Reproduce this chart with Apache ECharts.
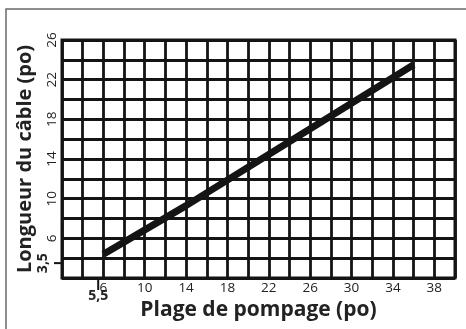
<!DOCTYPE html>
<html>
<head>
<meta charset="utf-8">
<script src="https://cdn.jsdelivr.net/npm/echarts@6/dist/echarts.min.js"></script>
<style>
  html, body { margin: 0; padding: 0; background: #fff; }
  #chart { width: 466px; height: 329px; }
</style>
</head>
<body>
<div id="chart"></div>
<script>
// Cable length versus pumping stroke
const strokeRange = [6, 14, 23, 36];          // Plage de pompage (po)
const cableLength = [4.4, 9.3, 15.1, 23.5];   // Longueur du câble (po)
const xTickLabels = [6, 10, 14, 18, 22, 26, 30, 34, 38];
const yTickLabels = [6, 10, 14, 18, 22, 26];
const minStroke = 5.5;   // marked on the x axis
const minCable = 3.5;    // marked on the y axis

const ink = '#141414';
const font = '"Open Sans", "Noto Sans", sans-serif';

const chart = echarts.init(document.getElementById('chart'), null, { renderer: 'canvas' });

const option = {
  backgroundColor: '#fff',
  animation: false,
  grid: {
    left: 62, right: 11, top: 40, bottom: 51,
    show: true, borderColor: ink, borderWidth: 3, backgroundColor: 'transparent'
  },
  xAxis: {
    type: 'value', min: 2, max: 40, interval: 2,
    axisLine: { show: false },
    axisTick: { show: false },
    splitLine: { show: true, lineStyle: { color: ink, width: 2.8 } },
    axisLabel: {
      margin: 3, color: '#222', fontFamily: font, fontSize: 13.5,
      formatter: v => xTickLabels.includes(v) ? String(v) : ''
    },
    name: 'Plage de pompage (po)',
    nameLocation: 'middle', nameGap: 17,
    nameTextStyle: { fontFamily: font, fontWeight: 'bold', fontSize: 21, color: '#222' }
  },
  yAxis: {
    type: 'value', min: 2, max: 26, interval: 2,
    axisLine: { show: false },
    axisTick: { show: false },
    splitLine: { show: true, lineStyle: { color: ink, width: 2.8 } },
    axisLabel: {
      margin: 3, rotate: 90, color: '#222', fontFamily: font, fontSize: 13.5,
      formatter: v => yTickLabels.includes(v) ? String(v) : ''
    },
    name: 'Longueur du câble (po)',
    nameLocation: 'middle', nameGap: 27,
    nameTextStyle: { fontFamily: font, fontWeight: 'bold', fontSize: 20, color: '#222' }
  },
  series: [{
    type: 'line',
    data: strokeRange.map((x, i) => [x, cableLength[i]]),
    showSymbol: false,
    lineStyle: { color: ink, width: 7, cap: 'butt', join: 'round' },
    z: 5
  }]
};
chart.setOption(option);

// Frame, plus the two minimum markers placed through the axis scales
const xBase = chart.convertToPixel({ gridIndex: 0 }, [minStroke, 2]);
const yBase = chart.convertToPixel({ gridIndex: 0 }, [2, minCable]);
chart.setOption({
  graphic: [
    { type: 'polyline', shape: { points: [[6, 329], [6, 9], [466, 9]] },
      style: { stroke: '#6a6a6a', lineWidth: 1.5, fill: null }, silent: true },
    { type: 'line', shape: { x1: xBase[0], y1: xBase[1], x2: xBase[0], y2: xBase[1] + 12 },
      style: { stroke: ink, lineWidth: 2 } },
    { type: 'text', x: xBase[0], y: xBase[1] + 11,
      style: { text: '5,5', fontFamily: font, fontWeight: 'bold', fontSize: 14, fill: '#222',
               align: 'center', verticalAlign: 'top' } },
    { type: 'line', shape: { x1: yBase[0], y1: yBase[1], x2: yBase[0] - 8, y2: yBase[1] },
      style: { stroke: ink, lineWidth: 2 } },
    { type: 'text', x: yBase[0] - 12, y: yBase[1], rotation: Math.PI / 2,
      style: { text: '3,5', fontFamily: font, fontWeight: 'bold', fontSize: 14, fill: '#222',
               align: 'center', verticalAlign: 'bottom' } }
  ]
});
</script>
</body>
</html>
